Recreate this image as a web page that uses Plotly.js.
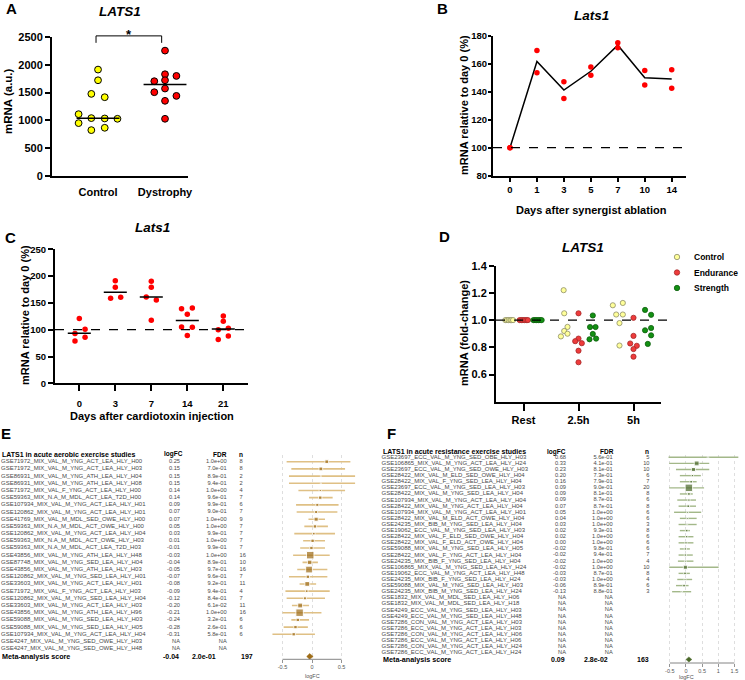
<!DOCTYPE html>
<html><head><meta charset="utf-8">
<script src="https://cdn.plot.ly/plotly-3.0.1.min.js"></script>
<style>html,body{margin:0;padding:0;background:#fff}#chart{width:745px;height:680px}</style>
</head><body><div id="chart"></div>
<script>
// ---------------- Panel A ----------------
const A_categories = ['Control', 'Dystrophy'];
const A_control = [1914, 1722, 1477, 1417, 1112, 951, 1041, 1035, 1029, 825, 867];
const A_controlJitter = [0, 0, -0.1, 0.1, -0.29, -0.29, -0.1, 0.1, 0.29, -0.1, 0.1];
const A_dystrophy = [2255, 1830, 1800, 1705, 1722, 1507, 1573, 1441, 1352, 1029];
const A_dystrophyJitter = [0, 0, 0.17, -0.16, 0, -0.16, 0, 0.17, 0, 0];
const A_medians = [1040, 1645];

// ---------------- Panel B ----------------
const B_days = ['0', '1', '3', '5', '7', '10', '14'];
const B_rep1 = [100, 169.5, 147.1, 157.6, 175.0, 155.2, 155.7];
const B_rep2 = [100, 153.6, 135.2, 151.7, 171.4, 144.8, 142.4];
const B_mean = [100, 161.6, 141.2, 154.6, 173.2, 150.0, 149.0];

// ---------------- Panel C ----------------
const C_days = ['0', '3', '7', '14', '21'];
const C_values = [
  [121, 101, 93, 86, 79],
  [191.5, 179, 158.6, 160.5],
  [190.3, 179, 161, 155.5, 117.5],
  [139.3, 140.6, 128.7, 105.1, 104.5, 89],
  [125.6, 115.7, 100.1, 102.6, 81.5, 88.3]
];
const C_jitter = [
  [0, 0.16, -0.12, 0.16, -0.12],
  [0, 0, -0.13, 0.15],
  [0, 0, -0.14, 0.14, 0],
  [-0.16, 0.14, 0, -0.16, 0.14, 0],
  [0, 0, -0.14, 0.14, -0.14, 0.14]
];
const C_medians = [93.3, 169.8, 161, 117, 101.4];

// ---------------- Panel D ----------------
const D_groups = ['Rest', '2.5h', '5h'];
const D_series = ['Control', 'Endurance', 'Strength'];
const D_controlValues = [1, 1, 1, 1, 1, 1, 1.22, 1.05, 0.95, 0.92, 0.88, 0.90, 1.109, 1.126, 1.041, 1.041, 0.978, 0.813];
const D_controlJitter = [-0.33, -0.30, -0.27, -0.24, -0.22, -0.19, -0.27, -0.26, -0.2, -0.26, -0.32, -0.2, -0.376, -0.194, -0.315, -0.194, -0.255, -0.255];
const D_enduranceValues = [1, 1, 1, 1, 1, 1, 1.05, 0.864, 0.845, 0.83, 0.775, 0.69, 1.017, 0.884, 0.828, 0.811, 0.787, 0.731];
const D_enduranceJitter = [-0.07, -0.04, -0.01, 0.02, 0.05, 0.08, 0, 0, -0.06, 0.06, 0, 0, 0, 0, -0.06, 0.06, 0, 0];
const D_strengthValues = [1, 1, 1, 1, 1, 1, 1.034, 0.949, 0.949, 0.898, 0.859, 0.864, 1.075, 1.039, 0.925, 0.942, 0.888, 0.825];
const D_strengthJitter = [0.18, 0.21, 0.24, 0.27, 0.3, 0.33, 0.26, 0.21, 0.31, 0.26, 0.2, 0.32, 0.21, 0.32, 0.21, 0.32, 0.32, 0.26];
const D_group = [0, 0, 0, 0, 0, 0, 1, 1, 1, 1, 1, 1, 2, 2, 2, 2, 2, 2];

// ---------------- Panel E ----------------
const E_title = 'LATS1 in acute aerobic exercise studies';
const E_names = [
  'GSE71972_MIX_VAL_M_YNG_ACT_LEA_HLY_H00', 'GSE71972_MIX_VAL_M_YNG_ACT_LEA_HLY_H03',
  'GSE86931_MIX_VAL_M_YNG_ATH_LEA_HLY_H04', 'GSE86931_MIX_VAL_M_YNG_ATH_LEA_HLY_H08',
  'GSE71972_MIX_VAL_F_YNG_ACT_LEA_HLY_H00', 'GSE59363_MIX_N.A_M_MDL_ACT_LEA_T2D_H00',
  'GSE107934_MIX_VAL_M_YNG_ACT_LEA_HLY_H01', 'GSE120862_MIX_VAL_M_YNG_ACT_LEA_HLY_H01',
  'GSE41769_MIX_VAL_M_MDL_SED_OWE_HLY_H00', 'GSE59363_MIX_N.A_M_MDL_ACT_OWE_HLY_H00',
  'GSE120862_MIX_VAL_M_YNG_ACT_LEA_HLY_H04', 'GSE59363_MIX_N.A_M_MDL_ACT_OWE_HLY_H03',
  'GSE59363_MIX_N.A_M_MDL_ACT_LEA_T2D_H03', 'GSE43856_MIX_VAL_M_YNG_ATH_LEA_HLY_H48',
  'GSE87748_MIX_VAL_M_YNG_SED_LEA_HLY_H04', 'GSE43856_MIX_VAL_M_YNG_ATH_LEA_HLY_H03',
  'GSE120862_MIX_VAL_M_YNG_SED_LEA_HLY_H01', 'GSE33603_MIX_VAL_M_YNG_ACT_LEA_HLY_H01',
  'GSE71972_MIX_VAL_F_YNG_ACT_LEA_HLY_H03', 'GSE120862_MIX_VAL_M_YNG_SED_LEA_HLY_H04',
  'GSE33603_MIX_VAL_M_YNG_ACT_LEA_HLY_H03', 'GSE43856_MIX_VAL_M_YNG_ATH_LEA_HLY_H96',
  'GSE59088_MIX_VAL_M_YNG_SED_LEA_HLY_H03', 'GSE59088_MIX_VAL_M_YNG_SED_LEA_HLY_H05',
  'GSE107934_MIX_VAL_M_YNG_ACT_LEA_HLY_H04', 'GSE4247_MIX_VAL_M_YNG_SED_OWE_HLY_H03',
  'GSE4247_MIX_VAL_M_YNG_SED_OWE_HLY_H48'
];
const E_logFC = [0.25, 0.15, 0.15, 0.15, 0.14, 0.14, 0.09, 0.07, 0.07, 0.05, 0.03, 0.01, -0.01, -0.03, -0.04, -0.05, -0.07, -0.08, -0.09, -0.12, -0.20, -0.21, -0.24, -0.28, -0.31, null, null];
const E_fdr = ['1.0e+00', '7.0e-01', '8.9e-01', '9.4e-01', '1.0e+00', '9.6e-01', '9.9e-01', '9.0e-01', '1.0e+00', '1.0e+00', '9.9e-01', '1.0e+00', '9.9e-01', '1.0e+00', '8.9e-01', '9.7e-01', '9.6e-01', '9.2e-01', '9.4e-01', '8.4e-01', '6.1e-02', '1.0e+00', '3.2e-01', '2.6e-01', '5.8e-01', 'NA', 'NA'];
const E_n = [8, 8, 2, 2, 4, 7, 6, 7, 9, 7, 7, 7, 7, 16, 10, 16, 7, 11, 4, 7, 11, 16, 6, 6, 6];
const E_lo = [-0.43, -0.35, -0.39, -0.39, -0.23, -0.05, -0.27, -0.26, -0.06, -0.13, -0.30, -0.15, -0.20, -0.32, -0.16, -0.25, -0.39, -0.21, -0.45, -0.43, -0.34, -0.50, -0.35, -0.48, -0.67];
const E_hi = [0.65, 0.56, 0.73, 0.73, 0.56, 0.35, 0.45, 0.43, 0.22, 0.27, 0.39, 0.22, 0.22, 0.30, 0.10, 0.26, 0.26, 0.07, 0.30, 0.22, -0.05, 0.16, -0.05, -0.07, 0.05];
const E_weight = [5, 5, 1.5, 1.5, 3, 4.5, 4, 4, 5.5, 4.5, 3.5, 4.5, 4.5, 10, 6, 9, 4.5, 6.5, 3.5, 4, 6.5, 10, 4.5, 4.5, 4.5];
const E_metaLogFC = -0.04, E_metaLo = -0.09, E_metaHi = 0.02, E_metaFdr = '2.0e-01', E_metaN = 197;

// ---------------- Panel F ----------------
const F_title = 'LATS1 in acute resistance exercise studies';
const F_names = [
  'GSE23697_ECC_VAL_M_YNG_SED_OBE_HLY_H03', 'GSE106865_MIX_VAL_M_YNG_ACT_LEA_HLY_H24',
  'GSE23697_ECC_VAL_M_YNG_SED_OWE_HLY_H03', 'GSE28422_MIX_VAL_M_ELD_SED_OWE_HLY_H04',
  'GSE28422_MIX_VAL_F_YNG_SED_LEA_HLY_H04', 'GSE23697_ECC_VAL_M_YNG_SED_LEA_HLY_H03',
  'GSE28422_MIX_VAL_M_YNG_SED_LEA_HLY_H04', 'GSE107934_MIX_VAL_M_YNG_ACT_LEA_HLY_H04',
  'GSE28422_MIX_VAL_M_YNG_ACT_LEA_HLY_H04', 'GSE107934_MIX_VAL_M_YNG_ACT_LEA_HLY_H01',
  'GSE28422_MIX_VAL_M_ELD_ACT_OWE_HLY_H04', 'GSE24235_MIX_BIB_M_YNG_SED_LEA_HLY_H04',
  'GSE19062_ECC_VAL_M_YNG_SED_LEA_HLY_H03', 'GSE28422_MIX_VAL_F_ELD_SED_OWE_HLY_H04',
  'GSE28422_MIX_VAL_F_ELD_ACT_OWE_HLY_H04', 'GSE59088_MIX_VAL_M_YNG_SED_LEA_HLY_H05',
  'GSE28422_MIX_VAL_F_YNG_ACT_LEA_HLY_H04', 'GSE24235_MIX_BIB_F_YNG_SED_LEA_HLY_H04',
  'GSE106865_MIX_VAL_M_YNG_SED_LEA_HLY_H24', 'GSE19062_ECC_VAL_M_YNG_ACT_LEA_HLY_H48',
  'GSE24235_MIX_BIB_F_YNG_SED_LEA_HLY_H24', 'GSE59088_MIX_VAL_M_YNG_SED_LEA_HLY_H03',
  'GSE24235_MIX_BIB_M_YNG_SED_LEA_HLY_H24', 'GSE1832_MIX_VAL_M_MDL_SED_LEA_HLY_H06',
  'GSE1832_MIX_VAL_M_MDL_SED_LEA_HLY_H18', 'GSE4249_ECC_VAL_M_YNG_SED_LEA_HLY_H03',
  'GSE4249_ECC_VAL_M_YNG_SED_LEA_HLY_H48', 'GSE7286_CON_VAL_M_YNG_ACT_LEA_HLY_H03',
  'GSE7286_ECC_VAL_M_YNG_ACT_LEA_HLY_H03', 'GSE7286_CON_VAL_M_YNG_ACT_LEA_HLY_H06',
  'GSE7286_ECC_VAL_M_YNG_ACT_LEA_HLY_H06', 'GSE7286_CON_VAL_M_YNG_ACT_LEA_HLY_H24',
  'GSE7286_ECC_VAL_M_YNG_ACT_LEA_HLY_H24'
];
const F_logFC = [0.68, 0.33, 0.23, 0.20, 0.16, 0.09, 0.09, 0.09, 0.07, 0.05, 0.04, 0.03, 0.02, 0.02, 0.00, -0.02, -0.02, -0.02, -0.02, -0.03, -0.03, -0.06, -0.13, null, null, null, null, null, null, null, null, null, null];
const F_fdr = ['5.6e-01', '4.1e-01', '8.1e-01', '7.3e-01', '7.9e-01', '9.0e-01', '8.1e-01', '8.7e-01', '8.7e-01', '1.0e+00', '1.0e+00', '1.0e+00', '9.3e-01', '1.0e+00', '1.0e+00', '9.8e-01', '9.4e-01', '1.0e+00', '1.0e+00', '8.7e-01', '1.0e+00', '8.9e-01', '8.8e-01', 'NA', 'NA', 'NA', 'NA', 'NA', 'NA', 'NA', 'NA', 'NA', 'NA'];
const F_n = [5, 10, 10, 6, 7, 20, 8, 6, 8, 6, 6, 3, 8, 6, 6, 6, 7, 4, 10, 8, 4, 6, 3];
const F_lo = [-0.54, -0.52, -0.31, -0.19, -0.19, -0.52, -0.19, -0.27, -0.23, -0.37, -0.19, -0.23, -0.19, -0.23, -0.23, -0.19, -0.23, -0.25, -0.52, -0.23, -0.27, -0.31, -0.43];
const F_hi = [1.62, 0.72, 0.72, 0.46, 0.33, 0.56, 0.21, 0.31, 0.31, 0.47, 0.33, 0.33, 0.12, 0.23, 0.23, 0.12, 0.21, 0.23, 1.01, 0.12, 0.19, 0.08, 0.16];
const F_weight = [2, 6.5, 5.5, 3, 3.5, 10, 3.5, 3, 3.5, 2.5, 2.5, 2, 3.5, 3, 3, 3, 3, 2.5, 5.5, 3.5, 2.5, 3.5, 2];
const F_metaLogFC = 0.09, F_metaLo = 0.0, F_metaHi = 0.18, F_metaFdr = '2.8e-02', F_metaN = 163;

// ================= drawing =================
const FONT = 'Liberation Sans, Arial, Helvetica, sans-serif';
const W = 745, H = 680;
const px = v => v / W, py = v => 1 - v / H;

function pAxis(o) {
  return Object.assign({
    showline: true, linecolor: '#000', linewidth: 2,
    ticks: 'outside', ticklen: 5, tickwidth: 2, tickcolor: '#000',
    showgrid: false, zeroline: false, fixedrange: true,
    tickfont: {family: FONT, size: 11, color: '#000', weight: 'bold'}
  }, o);
}
function ann(text, x, y, o) {
  return Object.assign({text: text, x: px(x), y: py(y), xref: 'paper', yref: 'paper', showarrow: false,
    xanchor: 'center', yanchor: 'middle', font: {family: FONT, size: 11, color: '#000'}}, o || {});
}
const bold = t => '<b>' + t + '</b>';
const bi = t => '<b><i>' + t + '</i></b>';

const traces = [];
const shapes = [];
const annotations = [];

// ---- A
traces.push({type: 'scatter', mode: 'markers', xaxis: 'x', yaxis: 'y',
  x: A_control.map((v, i) => 0 + A_controlJitter[i]), y: A_control,
  marker: {size: 6.8, color: '#FFFF00', line: {color: '#000', width: 1}}, hoverinfo: 'skip'});
traces.push({type: 'scatter', mode: 'markers', xaxis: 'x', yaxis: 'y',
  x: A_dystrophy.map((v, i) => 1 + A_dystrophyJitter[i]), y: A_dystrophy,
  marker: {size: 6.8, color: '#FF0000', line: {color: '#000', width: 1}}, hoverinfo: 'skip'});
A_medians.forEach((m, i) => traces.push({type: 'scatter', mode: 'lines', xaxis: 'x', yaxis: 'y',
  x: [i - 0.32, i + 0.32], y: [m, m], line: {color: '#000', width: 1.5}, hoverinfo: 'skip'}));
shapes.push({type: 'path', xref: 'x', yref: 'y domain', path: 'M -0.03,0.958 L -0.03,1.008 L 0.95,1.008 L 0.95,0.958',
  line: {color: '#000', width: 1}});
annotations.push({text: bold('*'), xref: 'x', yref: 'paper', x: 0.46, y: py(34), showarrow: false,
  xanchor: 'center', yanchor: 'middle', font: {family: FONT, size: 13, color: '#000'}});

// ---- B
traces.push({type: 'scatter', mode: 'lines', xaxis: 'x2', yaxis: 'y2', x: B_days.map((d, i) => i), y: B_mean,
  line: {color: '#000', width: 1.5}, hoverinfo: 'skip'});
[B_rep1, B_rep2].forEach(rep => traces.push({type: 'scatter', mode: 'markers', xaxis: 'x2', yaxis: 'y2',
  x: B_days.map((d, i) => i), y: rep, marker: {size: 5.5, color: '#FF0000'}, hoverinfo: 'skip', cliponaxis: false}));
shapes.push({type: 'line', xref: 'x2 domain', yref: 'y2', x0: 0, x1: 1, y0: 100, y1: 100,
  line: {color: '#000', width: 1.3, dash: 'dash'}});

// ---- C
C_values.forEach((vals, g) => {
  traces.push({type: 'scatter', mode: 'markers', xaxis: 'x3', yaxis: 'y3',
    x: vals.map((v, i) => g + C_jitter[g][i]), y: vals, marker: {size: 5.5, color: '#FF0000'}, hoverinfo: 'skip'});
  traces.push({type: 'scatter', mode: 'lines', xaxis: 'x3', yaxis: 'y3',
    x: [g - 0.32, g + 0.32], y: [C_medians[g], C_medians[g]], line: {color: '#000', width: 1.5}, hoverinfo: 'skip'});
});
shapes.push({type: 'line', xref: 'x3 domain', yref: 'y3', x0: 0, x1: 1, y0: 100, y1: 100,
  line: {color: '#000', width: 1.3, dash: 'dash'}});

// ---- D
const D_styles = [
  {fill: '#FFFF99', line: '#8d8d6a'},
  {fill: '#EE3B3B', line: '#a52a2a'},
  {fill: '#139013', line: '#0b5e0b'}
];
shapes.push({type: 'line', xref: 'x4 domain', yref: 'y4', x0: 0, x1: 1.04, y0: 1, y1: 1,
  line: {color: '#000', width: 1.3, dash: 'dash'}});
[[D_controlValues, D_controlJitter], [D_enduranceValues, D_enduranceJitter], [D_strengthValues, D_strengthJitter]]
  .forEach((s, k) => traces.push({type: 'scatter', mode: 'markers', xaxis: 'x4', yaxis: 'y4',
    x: s[0].map((v, i) => D_group[i] + s[1][i]), y: s[0], name: D_series[k],
    marker: {size: 5.2, color: D_styles[k].fill, line: {color: D_styles[k].line, width: 0.8}}, hoverinfo: 'skip'}));
// manual legend
D_series.forEach((name, k) => {
  const cy = 257 + k * 15.5, cx = 677, r = 2.7;
  shapes.push({type: 'circle', xref: 'paper', yref: 'paper', x0: px(cx - r), x1: px(cx + r), y0: py(cy + r), y1: py(cy - r),
    fillcolor: D_styles[k].fill, line: {color: D_styles[k].line, width: 0.8}});
  annotations.push(ann(bold(name), 692, cy, {xanchor: 'left', font: {family: FONT, size: 8.5, color: '#000'}}));
});

// ---- E forest
function ciLines(lo, hi) {
  const x = [], y = [];
  lo.forEach((l, i) => { x.push(l, hi[i], null); y.push(i + 1, i + 1, null); });
  return {x, y};
}
function diamond(est, lo, hi, row, half) {
  return {x: [lo, est, hi, est, lo], y: [row, row - half, row, row + half, row]};
}
const E_metaRow = E_names.length + 1.09;
const eCI = ciLines(E_lo, E_hi);
traces.push({type: 'scatter', mode: 'lines', xaxis: 'x5', yaxis: 'y5', x: eCI.x, y: eCI.y,
  line: {color: '#DFC085', width: 1.6}, hoverinfo: 'skip'});
traces.push({type: 'scatter', mode: 'markers', xaxis: 'x5', yaxis: 'y5',
  x: E_lo.map((l, i) => E_logFC[i]), y: E_lo.map((l, i) => i + 1),
  marker: {symbol: 'square', size: E_weight.map(w => w * 0.75), color: '#9E6C17'}, hoverinfo: 'skip'});
const eD = diamond(E_metaLogFC, E_metaLo, E_metaHi, E_metaRow, 0.4);
traces.push({type: 'scatter', mode: 'lines', xaxis: 'x5', yaxis: 'y5', x: eD.x, y: eD.y, fill: 'toself',
  fillcolor: '#9E6C17', line: {color: '#9E6C17', width: 0.5}, hoverinfo: 'skip'});
shapes.push({type: 'line', xref: 'x5', yref: 'y5 domain', x0: -0.5, x1: 0.5, y0: 0, y1: 0, line: {color: '#666', width: 0.8}});

// ---- F forest
const F_metaRow = F_names.length + 1.09;
const fCI = ciLines(F_lo, F_hi);
traces.push({type: 'scatter', mode: 'lines', xaxis: 'x6', yaxis: 'y6', x: fCI.x, y: fCI.y,
  line: {color: '#A3B889', width: 1.4}, hoverinfo: 'skip'});
traces.push({type: 'scatter', mode: 'markers', xaxis: 'x6', yaxis: 'y6',
  x: F_lo.map((l, i) => F_logFC[i]), y: F_lo.map((l, i) => i + 1),
  marker: {symbol: 'square', size: F_weight.map(w => w * 0.75), color: '#4A6829'}, hoverinfo: 'skip'});
const fD = diamond(F_metaLogFC, F_metaLo, F_metaHi, F_metaRow, 0.42);
traces.push({type: 'scatter', mode: 'lines', xaxis: 'x6', yaxis: 'y6', x: fD.x, y: fD.y, fill: 'toself',
  fillcolor: '#4A6829', line: {color: '#4A6829', width: 0.5}, hoverinfo: 'skip'});
shapes.push({type: 'line', xref: 'x6', yref: 'y6 domain', x0: -0.5, x1: 1.5, y0: 0, y1: 0, line: {color: '#666', width: 0.8}});

// ---- tables (text traces)
const rowFont = {family: FONT, size: 6, color: '#4a4a4a'};
const numFont = {family: FONT, size: 5.7, color: '#4a4a4a'};
const fmt = v => (v === null || v === undefined) ? 'NA' : v.toFixed(2);
function tableTraces(xa, ya, names, logFC, fdr, n, cols) {
  const rows = names.map((s, i) => i + 1);
  const t = {type: 'scatter', mode: 'text', xaxis: xa, yaxis: ya, cliponaxis: false, hoverinfo: 'skip', textfont: numFont};
  traces.push(Object.assign({}, t, {x: rows.map(() => cols.name), y: rows, text: names, textposition: 'middle right', textfont: rowFont}));
  traces.push(Object.assign({}, t, {x: rows.map(() => cols.logFC), y: rows, text: names.map((s, i) => fmt(logFC[i])), textposition: 'middle left'}));
  traces.push(Object.assign({}, t, {x: rows.map(() => cols.fdr), y: rows, text: fdr, textposition: 'middle left'}));
  traces.push(Object.assign({}, t, {x: n.map(() => cols.n), y: n.map((v, i) => i + 1), text: n.map(String), textposition: cols.nPos}));
}
const E_cols = {name: 1, logFC: 180, fdr: 226.7, n: 239.5, nPos: 'middle right'};
const F_cols = {name: 381.5, logFC: 566, fdr: 612.7, n: 649.5, nPos: 'middle left'};
tableTraces('x7', 'y5', E_names, E_logFC, E_fdr, E_n, E_cols);
tableTraces('x8', 'y6', F_names, F_logFC, F_fdr, F_n, F_cols);

function metaAnn(xa, ya, row, cols, lf, fdr, n, fdrX, nX, nAnchor) {
  const f = {family: FONT, size: 7, color: '#000'};
  const base = {xref: xa, yref: ya, y: row, showarrow: false, yanchor: 'middle', font: f};
  annotations.push(Object.assign({}, base, {text: bold('Meta-analysis score'), x: cols.name - 1, xanchor: 'left', font: {family: FONT, size: 7.2, color: '#000'}}));
  annotations.push(Object.assign({}, base, {text: bold(fmt(lf)), x: cols.logFC + 1, xanchor: 'right'}));
  annotations.push(Object.assign({}, base, {text: bold(fdr), x: fdrX, xanchor: 'right'}));
  annotations.push(Object.assign({}, base, {text: bold(String(n)), x: nX, xanchor: nAnchor}));
}
metaAnn('x7', 'y5', E_metaRow, E_cols, E_metaLogFC, E_metaFdr, E_metaN, 218, 239, 'left');
metaAnn('x8', 'y6', F_metaRow, F_cols, F_metaLogFC, F_metaFdr, F_metaN, 610, 651, 'right');

// headers
const hF = {family: FONT, size: 7, color: '#000'};
annotations.push(ann(bold(E_title), 0, 454, {xanchor: 'left', font: hF}));
annotations.push(ann(bold('logFC'), 173, 454, {font: {family: FONT, size: 6.5, color: '#000'}}));
annotations.push(ann(bold('FDR'), 220, 454, {font: {family: FONT, size: 6.5, color: '#000'}}));
annotations.push(ann(bold('n'), 241, 454, {font: {family: FONT, size: 6.5, color: '#000'}}));
annotations.push(ann(bold(F_title), 380.5, 451.7, {xanchor: 'left', font: hF}));
annotations.push(ann(bold('logFC'), 556, 451.7, {font: {family: FONT, size: 6.5, color: '#000'}}));
annotations.push(ann(bold('FDR'), 606.7, 451.7, {font: {family: FONT, size: 6.5, color: '#000'}}));
annotations.push(ann(bold('n'), 647.3, 451.7, {font: {family: FONT, size: 6.5, color: '#000'}}));
annotations.push(ann('logFC', 312, 675.5, {font: {family: FONT, size: 5.5, color: '#555'}}));
annotations.push(ann('logFC', 686, 677.3, {font: {family: FONT, size: 5.5, color: '#555'}}));

// panel letters, titles, axis titles
const L = {family: FONT, size: 15, color: '#000'};
annotations.push(ann(bold('A'), 11, 9, {font: L}));
annotations.push(ann(bold('B'), 442, 9, {font: L}));
annotations.push(ann(bold('C'), 10, 238, {font: L}));
annotations.push(ann(bold('D'), 444, 236, {font: L}));
annotations.push(ann(bold('E'), 6, 434, {font: L}));
annotations.push(ann(bold('F'), 391, 434, {font: L}));
const T = {family: FONT, size: 13.5, color: '#000'};
annotations.push(ann(bi('LATS1'), 120, 11, {font: T}));
annotations.push(ann(bi('Lats1'), 591, 15, {font: T}));
annotations.push(ann(bi('Lats1'), 152, 228, {font: T}));
annotations.push(ann(bi('LATS1'), 583, 247, {font: T}));
const AT = {family: FONT, size: 11, color: '#000'};
annotations.push(ann(bold('mRNA (a.u.)'), 8, 101, {textangle: -90, font: {family: FONT, size: 11.5, color: '#000'}}));
annotations.push(ann(bold('mRNA relative to day 0 (%)'), 464, 105, {textangle: -90, font: AT}));
annotations.push(ann(bold('Days after synergist ablation'), 591, 210, {font: AT}));
annotations.push(ann(bold('mRNA relative to day 0 (%)'), 25, 315, {textangle: -90, font: AT}));
annotations.push(ann(bold('Days after cardiotoxin injection'), 152, 416, {font: AT}));
annotations.push(ann(bold('mRNA (fold-change)'), 464, 333, {textangle: -90, font: AT}));

const forestX = (o) => Object.assign({
  showline: false, zeroline: false, showgrid: true, gridcolor: '#d0d0d0', griddash: 'dot', gridwidth: 0.7,
  ticks: 'outside', ticklen: 2.5, tickwidth: 0.7, tickcolor: '#666', fixedrange: true,
  tickfont: {family: FONT, size: 5.5, color: '#555'}
}, o);
const hiddenAxis = (o) => Object.assign({visible: false, showgrid: false, zeroline: false, fixedrange: true}, o);
const tf95 = {family: FONT, size: 9.5, color: '#000', weight: 'bold'};

const layout = {
  width: W, height: H, margin: {l: 0, r: 0, t: 0, b: 0}, paper_bgcolor: '#fff', plot_bgcolor: 'rgba(0,0,0,0)',
  showlegend: false, font: {family: FONT},
  xaxis: pAxis({domain: [px(52), px(188)], anchor: 'y', range: [-0.687, 1.343], tickvals: [0, 1], ticktext: A_categories, ticks: '', ticklabelstandoff: 5}),
  yaxis: pAxis({domain: [py(176), py(37)], anchor: 'x', range: [0, 2500], tickvals: [0, 500, 1000, 1500, 2000, 2500]}),
  xaxis2: pAxis({domain: [px(493), px(686)], anchor: 'y2', range: [-0.63, 6.53], tickvals: B_days.map((d, i) => i), ticktext: B_days, ticklen: 4, tickfont: tf95}),
  yaxis2: pAxis({domain: [py(175.7), py(35.7)], anchor: 'x2', range: [80, 180], tickvals: [80, 100, 120, 140, 160, 180], ticklen: 3, ticklabelstandoff: -1, tickfont: tf95}),
  xaxis3: pAxis({domain: [px(55), px(248)], anchor: 'y3', range: [-0.675, 4.686], tickvals: C_days.map((d, i) => i), ticktext: C_days, ticklen: 6, ticklabelstandoff: 4, tickfont: tf95}),
  yaxis3: pAxis({domain: [py(383.3), py(249.3)], anchor: 'x3', range: [0, 250], tickvals: [0, 50, 100, 150, 200, 250], tickfont: tf95}),
  xaxis4: pAxis({domain: [px(496), px(661)], anchor: 'y4', range: [-0.5, 2.5], tickvals: [0, 1, 2], ticktext: D_groups, ticklen: 7}),
  yaxis4: pAxis({domain: [py(401.7), py(265.7)], anchor: 'x4', range: [0.4, 1.4], tickvals: [0.6, 0.8, 1.0, 1.2, 1.4], tickformat: '.1f'}),
  xaxis5: forestX({domain: [px(262), px(362)], anchor: 'y5', range: [-0.847, 0.847], tickvals: [-0.5, 0, 0.5], ticktext: ['-0.5', '0', '0.5']}),
  yaxis5: hiddenAxis({domain: [py(659.3), py(455)], anchor: 'x5', range: [28.48, 0.068]}),
  xaxis6: forestX({domain: [px(664), px(743)], anchor: 'y6', range: [-0.681, 1.765], tickvals: [-0.5, 0, 0.5, 1, 1.5], ticktext: ['-0.5', '0', '0.5', '1', '1.5']}),
  yaxis6: hiddenAxis({domain: [py(663), py(455)], anchor: 'x6', range: [34.67, 0.624]}),
  xaxis7: hiddenAxis({domain: [0, px(262)], anchor: 'y5', range: [0, 262]}),
  xaxis8: hiddenAxis({domain: [px(378), px(664)], anchor: 'y6', range: [378, 664]}),
  shapes: shapes, annotations: annotations
};

Plotly.newPlot('chart', traces, layout, {staticPlot: true, displayModeBar: false});
</script>
</body></html>
